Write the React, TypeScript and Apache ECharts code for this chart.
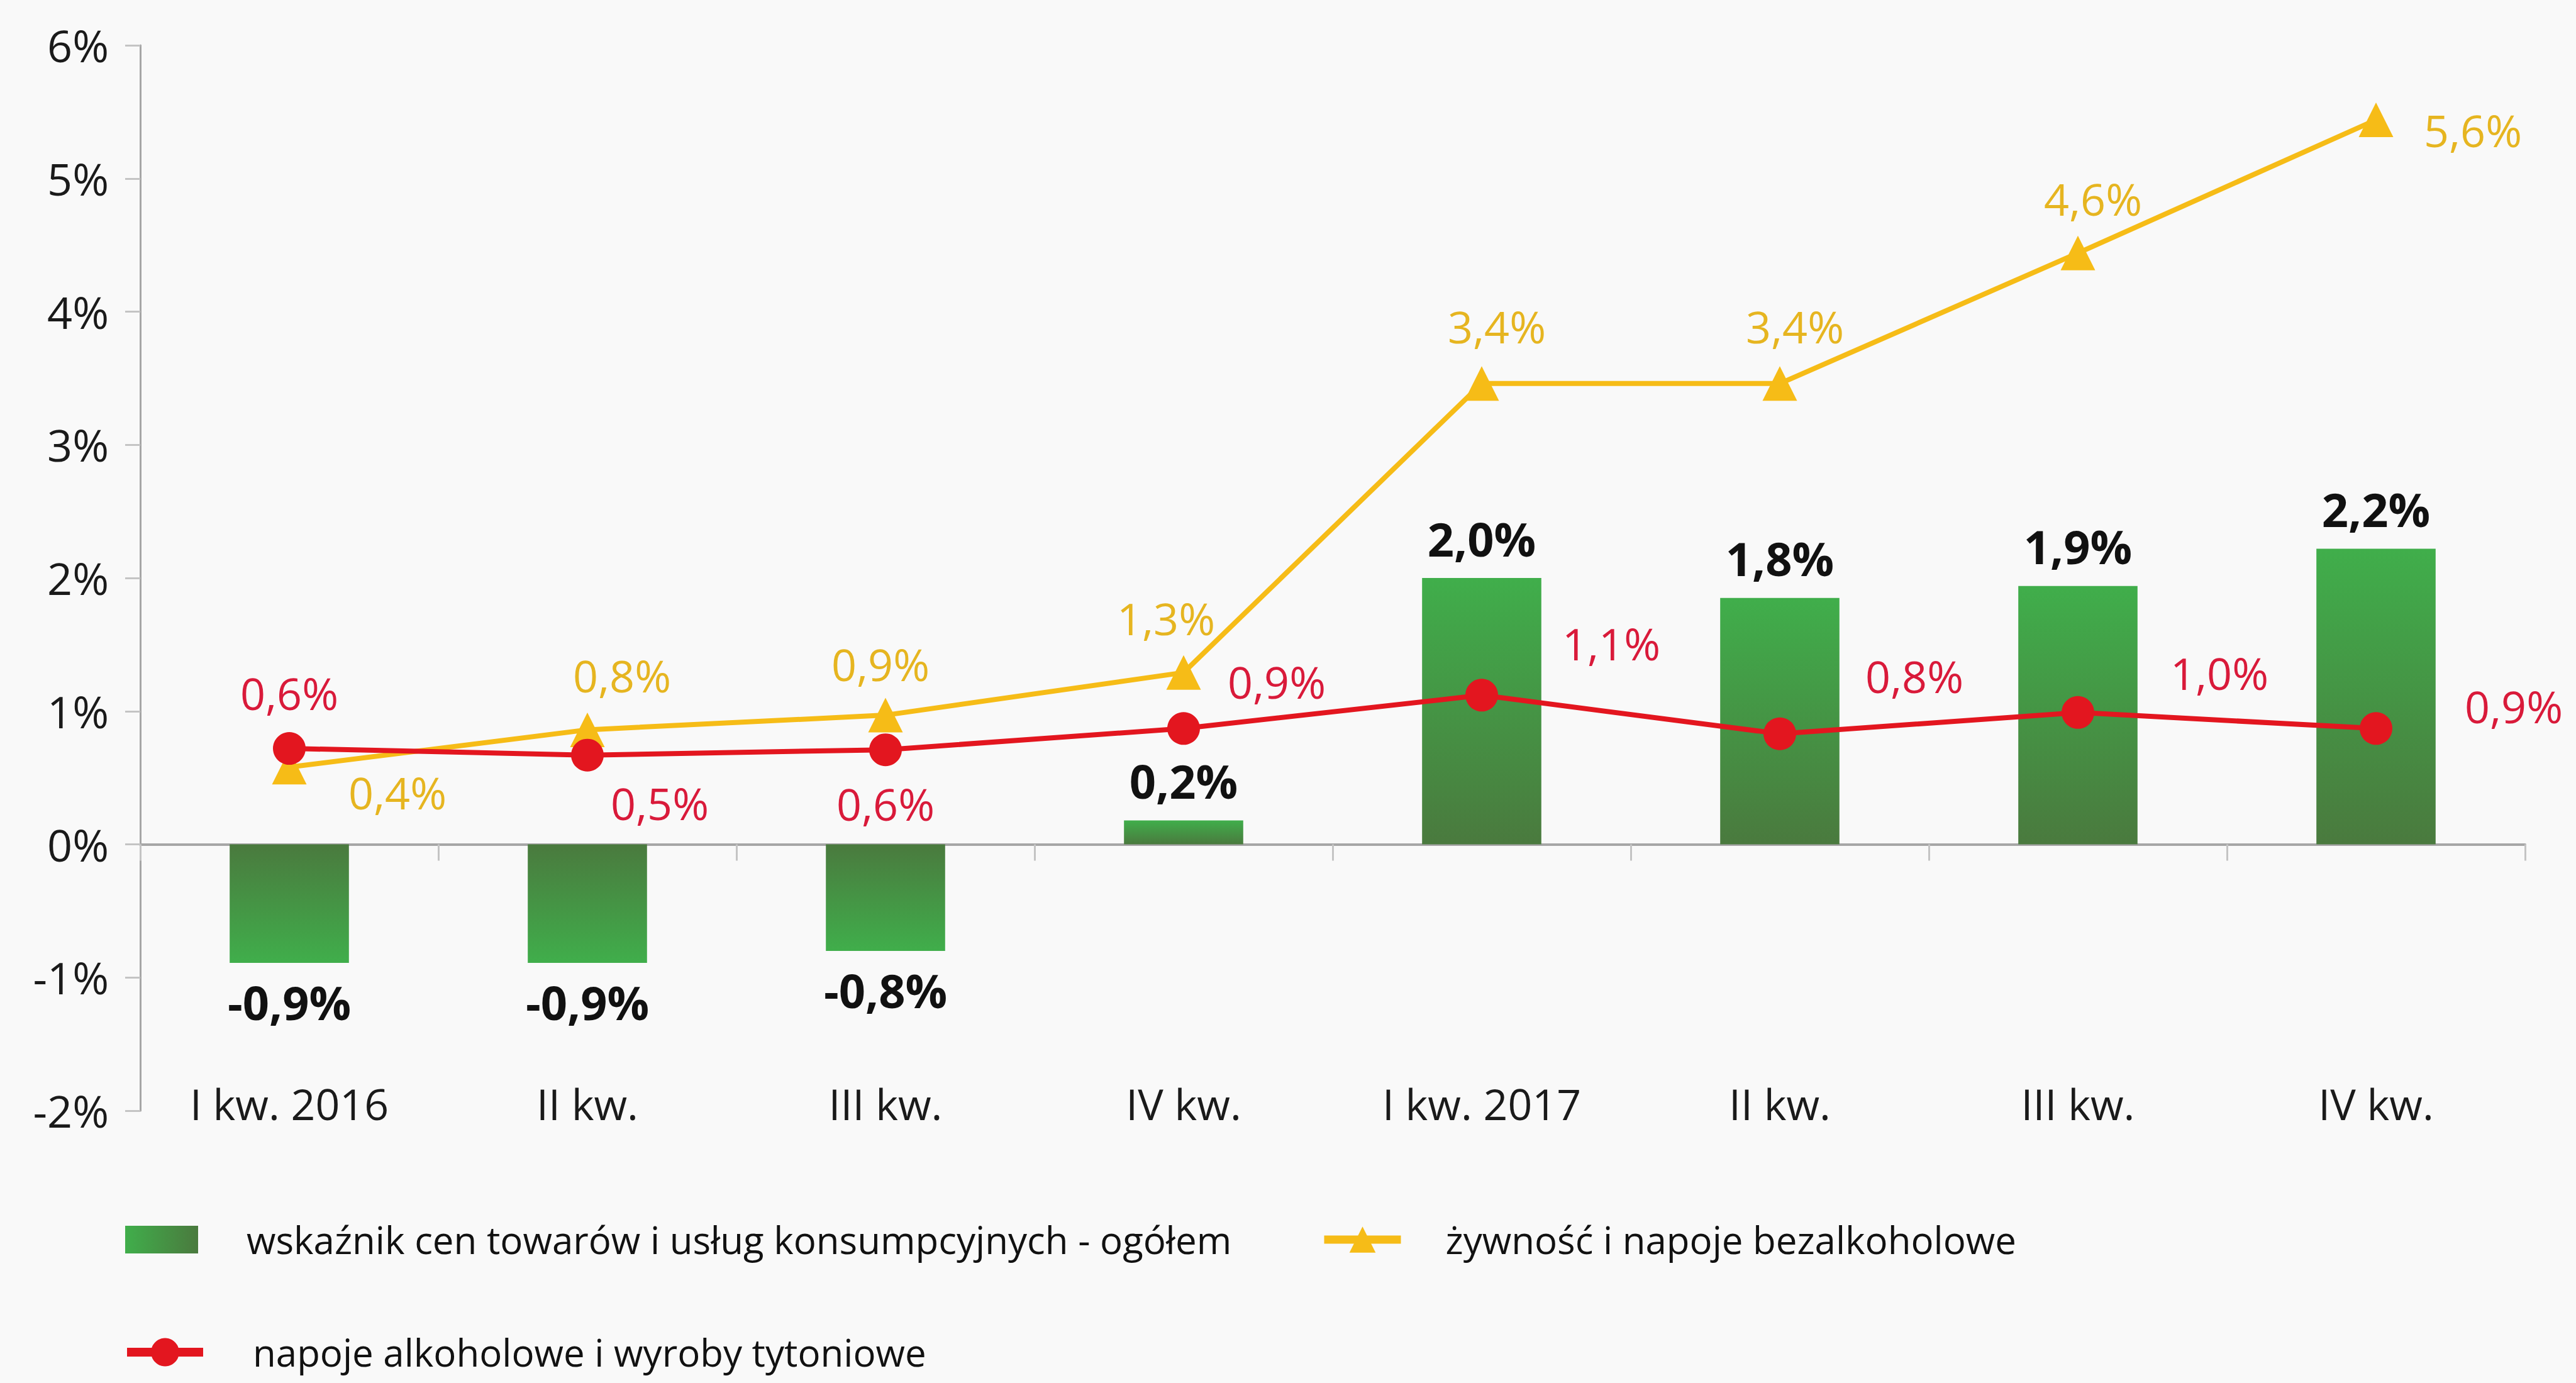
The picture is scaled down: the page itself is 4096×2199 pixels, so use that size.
import React, { useEffect, useRef } from "react";
import * as echarts from "echarts";

// ---------- data ----------
const CATEGORIES = ["I kw. 2016", "II kw.", "III kw.", "IV kw.", "I kw. 2017", "II kw.", "III kw.", "IV kw."];

const NAME_CPI = "wskaźnik cen towarów i usług konsumpcyjnych - ogółem";
const NAME_FOOD = "żywność i napoje bezalkoholowe";
const NAME_ALCO = "napoje alkoholowe i wyroby tytoniowe";

// plotted positions
const CPI_VALUES = [-0.89, -0.89, -0.8, 0.18, 2.0, 1.85, 1.94, 2.22];
const FOOD_VALUES = [0.58, 0.86, 0.97, 1.29, 3.46, 3.46, 4.44, 5.44];
const ALCO_VALUES = [0.72, 0.67, 0.71, 0.87, 1.12, 0.83, 0.99, 0.87];

// printed labels
const CPI_LABELS = ["-0,9%", "-0,9%", "-0,8%", "0,2%", "2,0%", "1,8%", "1,9%", "2,2%"];
const FOOD_LABELS = ["0,4%", "0,8%", "0,9%", "1,3%", "3,4%", "3,4%", "4,6%", "5,6%"];
const ALCO_LABELS = ["0,6%", "0,5%", "0,6%", "0,9%", "1,1%", "0,8%", "1,0%", "0,9%"];

const Y_MIN = -2;
const Y_MAX = 6;
const Y_STEP = 1;

// ---------- layout / style ----------
const FOOD_LABEL_OFFSETS = [[172, 40], [55, -86], [-8, -81], [-28, -86], [24, -91], [24, -91], [24, -86], [154, 16]];
const ALCO_LABEL_OFFSETS = [[0, -88], [115, 76], [0, 86], [148, -74], [206, -82], [214, -92], [225, -63], [219, -35]];

const FONT = "'Open Sans', 'Noto Sans', sans-serif";
const BG = "#f9f9f9";
const GREEN_DARK = "#4a7a3e";
const GREEN_LIGHT = "#40ae4b";
const YELLOW = "#f6bc17";
const YELLOW_TEXT = "#e6b520";
const RED = "#e3161f";
const RED_TEXT = "#d91a3a";
const AXIS_GRAY = "#a6a6a6";
const TICK_GRAY = "#c4c4c4";

function barGradient(v: number) {
  const stops = v >= 0
    ? [{ offset: 0, color: GREEN_LIGHT }, { offset: 1, color: GREEN_DARK }]
    : [{ offset: 0, color: GREEN_DARK }, { offset: 1, color: GREEN_LIGHT }];
  return new echarts.graphic.LinearGradient(0, 0, 0, 1, stops);
}

export default function App() {
  const ref = useRef<HTMLDivElement>(null);

  useEffect(() => {
    document.body.style.margin = "0";
    document.body.style.background = BG;
    if (!ref.current) return;
    const chart = echarts.init(ref.current, null, { renderer: "svg" });

    const legendText = (pad: number) => ({
      fontFamily: FONT,
      fontSize: 60,
      color: "#111",
      padding: [0, 0, 0, pad],
      lineHeight: 70,
    });

    const option: any = {
      animation: false,
      backgroundColor: BG,
      textStyle: { fontFamily: FONT },
      grid: { left: 223, right: 81, top: 72, bottom: 433, containLabel: false },
      legend: [
        {
          data: [NAME_CPI],
          left: 194,
          top: 1966 - 35,
          icon: "rect",
          itemWidth: 116,
          itemHeight: 44,
          textStyle: legendText(72),
        },
        {
          data: [NAME_FOOD],
          left: 2094,
          top: 1966 - 35,
          itemWidth: 122,
          itemHeight: 52,
          lineStyle: { width: 13, color: YELLOW },
          itemStyle: { color: YELLOW },
          textStyle: legendText(66),
        },
        {
          data: [NAME_ALCO],
          left: 190,
          top: 2145 - 35,
          itemWidth: 121,
          itemHeight: 56,
          lineStyle: { width: 14, color: RED },
          itemStyle: { color: RED },
          textStyle: legendText(74),
        },
      ],
      xAxis: {
        type: "category",
        data: CATEGORIES,
        boundaryGap: true,
        axisLine: { onZero: true, lineStyle: { color: AXIS_GRAY, width: 4 } },
        axisTick: { show: true, inside: false, length: 26, lineStyle: { color: TICK_GRAY, width: 3 } },
        axisLabel: { margin: -46, fontFamily: FONT, fontSize: 68, color: "#1a1a1a" },
        splitLine: { show: false },
      },
      yAxis: {
        type: "value",
        min: Y_MIN,
        max: Y_MAX,
        interval: Y_STEP,
        axisLine: { show: true, lineStyle: { color: AXIS_GRAY, width: 3 } },
        axisTick: { show: true, length: 24, lineStyle: { color: TICK_GRAY, width: 3 } },
        axisLabel: { margin: 50, fontFamily: FONT, fontSize: 70, color: "#1a1a1a", formatter: (v: number) => `${v}%` },
        splitLine: { show: false },
      },
      series: [
        {
          name: NAME_CPI,
          type: "bar",
          barWidth: "40%",
          z: 1,
          itemStyle: {
            color: new echarts.graphic.LinearGradient(0, 0, 1, 0, [
              { offset: 0, color: GREEN_LIGHT },
              { offset: 1, color: GREEN_DARK },
            ]),
          },
          data: CPI_VALUES.map((v, i) => ({
            value: v,
            itemStyle: { color: barGradient(v) },
            label: {
              show: true,
              position: v >= 0 ? "top" : "bottom",
              distance: 26,
              formatter: () => CPI_LABELS[i],
              fontFamily: FONT,
              fontSize: 74,
              fontWeight: "bold",
              color: "#111",
            },
          })),
        },
        {
          name: NAME_FOOD,
          type: "line",
          z: 3,
          symbol: "triangle",
          symbolSize: 55,
          lineStyle: { color: YELLOW, width: 8 },
          itemStyle: { color: YELLOW },
          data: FOOD_VALUES.map((v, i) => ({
            value: v,
            label: {
              show: true,
              position: "inside",
              offset: FOOD_LABEL_OFFSETS[i],
              formatter: () => FOOD_LABELS[i],
              fontFamily: FONT,
              fontSize: 70,
              color: YELLOW_TEXT,
            },
          })),
        },
        {
          name: NAME_ALCO,
          type: "line",
          z: 4,
          symbol: "circle",
          symbolSize: 52,
          lineStyle: { color: RED, width: 8 },
          itemStyle: { color: RED },
          data: ALCO_VALUES.map((v, i) => ({
            value: v,
            label: {
              show: true,
              position: "inside",
              offset: ALCO_LABEL_OFFSETS[i],
              formatter: () => ALCO_LABELS[i],
              fontFamily: FONT,
              fontSize: 70,
              color: RED_TEXT,
            },
          })),
        },
      ],
    };

    chart.setOption(option);
    return () => chart.dispose();
  }, []);

  return <div ref={ref} style={{ width: 4096, height: 2199, background: BG }} />;
}
